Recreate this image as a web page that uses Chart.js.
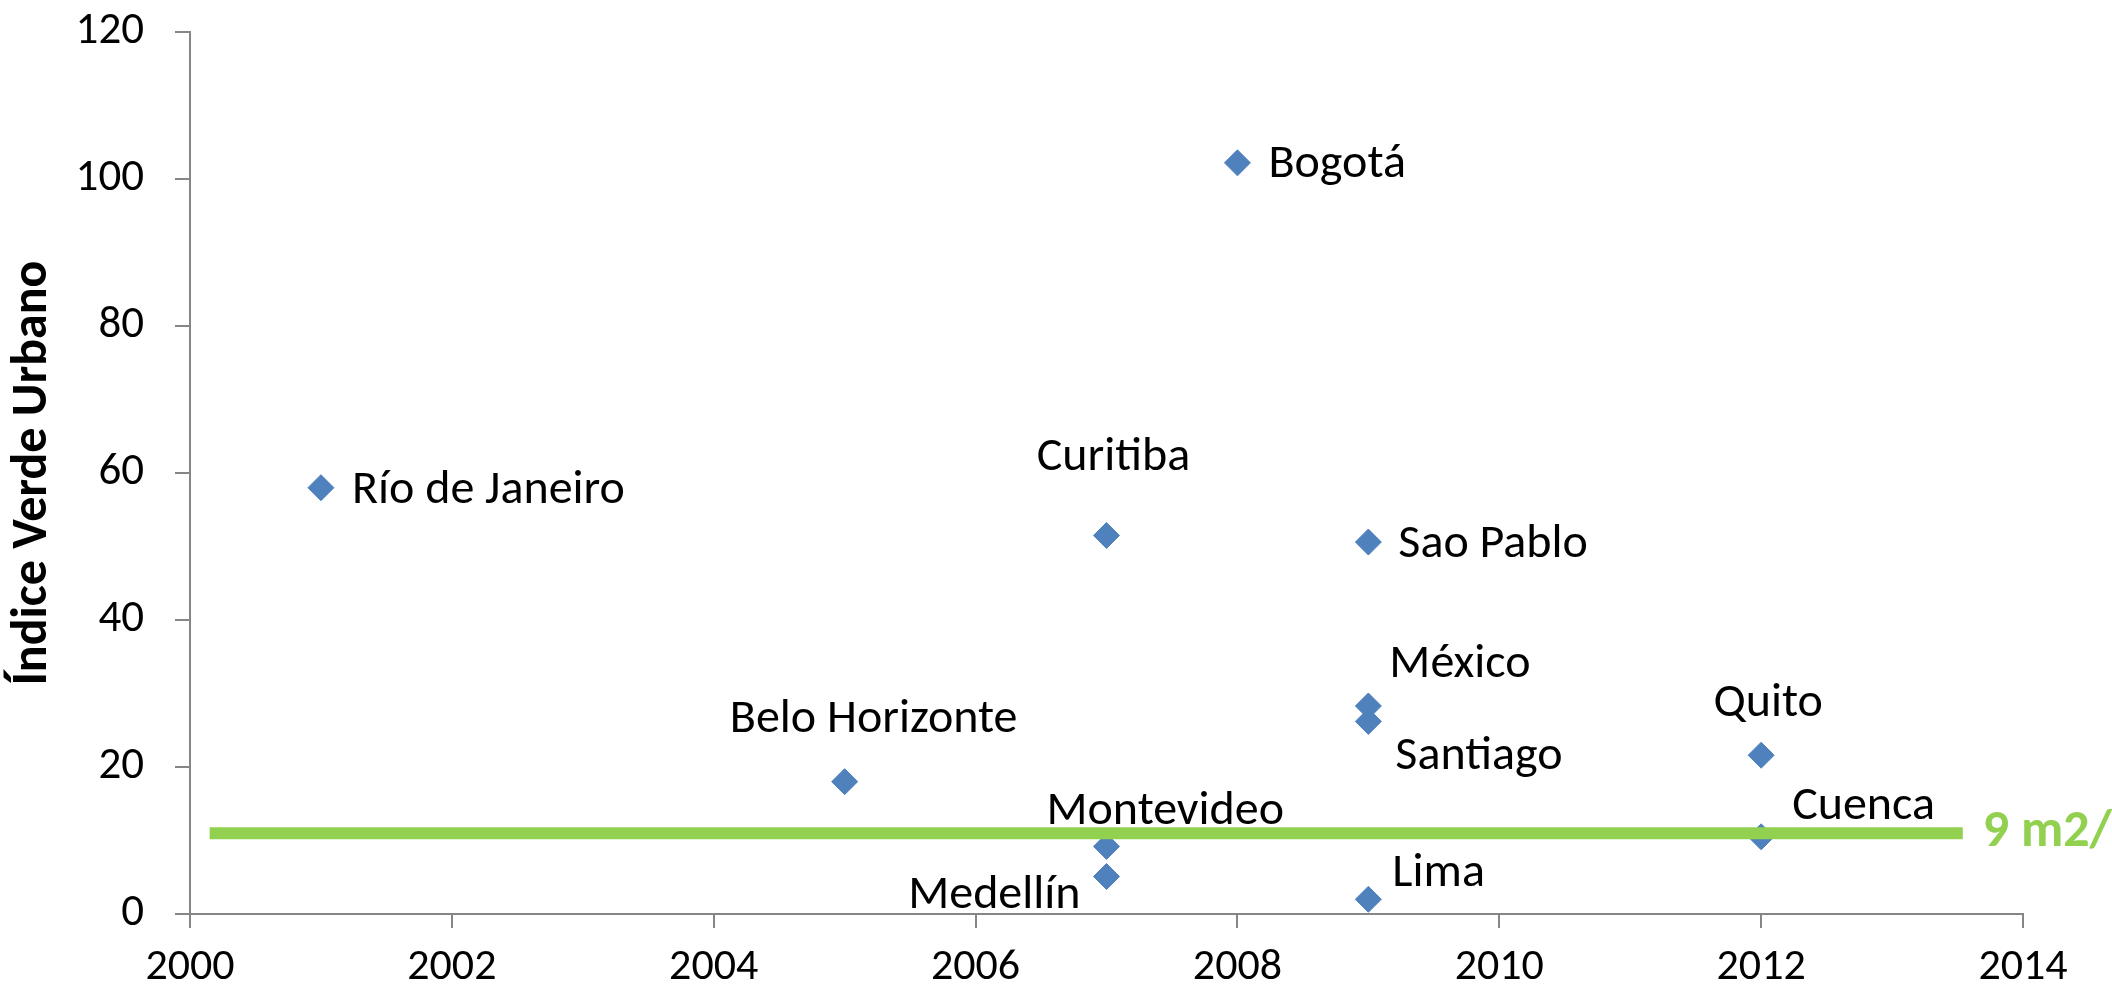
<!DOCTYPE html>
<html>
<head>
<meta charset="utf-8">
<script src="https://cdn.jsdelivr.net/npm/chart.js@4/dist/chart.umd.min.js"></script>
<style>
html, body { margin: 0; padding: 0; background: #fff; }
#wrap { width: 2112px; height: 986px; position: relative; }
</style>
</head>
<body>
<div id="wrap"><canvas id="chart"></canvas></div>
<script>
// data
const cities = ['Río de Janeiro', 'Belo Horizonte', 'Curitiba', 'Montevideo', 'Medellín', 'Bogotá',
    'Sao Pablo', 'México', 'Santiago', 'Lima', 'Quito', 'Cuenca'];
const years = [2001, 2005, 2007, 2007, 2007, 2008, 2009, 2009, 2009, 2009, 2012, 2012];
const greenIndex = [58, 18, 51.5, 9.2, 5.1, 102.2, 50.6, 28.3, 26.2, 2, 21.6, 10.5];
const refLineX = [2000.15, 2013.54];
const refLineY = [11, 11];
const refLineLabel = '9 m2/hab';
const yTitle = 'Índice Verde Urbano';

const FONT = 'Carlito, Lato, sans-serif';
const BLUE = '#4F81BD';
const GREEN = '#92D050';
const AXIS = '#868686';

// where each city name sits relative to its marker: [align, dx, dy]
const labelPlace = {
    'Río de Janeiro': ['left', 31, 3],
    'Belo Horizonte': ['center', 29, -62],
    'Curitiba': ['center', 7, -77],
    'Montevideo': ['left', -60, -34],
    'Medellín': ['right', -26, 19],
    'Bogotá': ['left', 31, 2],
    'Sao Pablo': ['left', 30, 3],
    'México': ['left', 21, -41],
    'Santiago': ['left', 27, 36],
    'Lima': ['left', 24, -25],
    'Quito': ['center', 7, -51],
    'Cuenca': ['left', 31, -30]
};

const cityPoints = years.map((y, i) => ({ x: y, y: greenIndex[i] }));
const refPoints = refLineX.map((x, i) => ({ x: x, y: refLineY[i] }));

const labelPlugin = {
    id: 'cityLabels',
    afterDatasetsDraw(chart) {
        const ctx = chart.ctx;
        ctx.save();
        ctx.font = '48px ' + FONT;
        ctx.fillStyle = '#000';
        ctx.textBaseline = 'middle';
        const meta = chart.getDatasetMeta(1);
        meta.data.forEach((pt, i) => {
            const p = labelPlace[cities[i]];
            ctx.textAlign = p[0];
            ctx.fillText(cities[i], pt.x + p[1], pt.y + p[2]);
        });

        const line = chart.getDatasetMeta(0).data;
        const last = line[line.length - 1];
        ctx.font = 'bold 52px ' + FONT;
        ctx.fillStyle = GREEN;
        ctx.textAlign = 'left';
        ctx.fillText(refLineLabel, last.x + 20, last.y);
        ctx.restore();
    }
};

new Chart(document.getElementById('chart'), {
    type: 'scatter',
    data: {
        datasets: [{
            label: refLineLabel,
            data: refPoints,
            showLine: true,
            borderColor: GREEN,
            borderWidth: 12,
            borderCapStyle: 'butt',
            pointRadius: 0,
            order: 0
        }, {
            label: 'Índice Verde Urbano',
            data: cityPoints,
            pointStyle: 'rectRot',
            pointRadius: 13,
            pointBackgroundColor: BLUE,
            pointBorderColor: BLUE,
            pointBorderWidth: 1,
            order: 1
        }]
    },
    options: {
        responsive: true,
        maintainAspectRatio: false,
        animation: false,
        layout: { padding: { top: 32, right: 89, left: 0, bottom: 0 } },
        plugins: {
            legend: { display: false },
            tooltip: { enabled: false }
        },
        scales: {
            x: {
                type: 'linear',
                min: 2000,
                max: 2014,
                afterFit: scale => { scale.height = 72; },
                ticks: {
                    stepSize: 2,
                    padding: 14,
                    color: '#000',
                    font: { family: FONT, size: 44 },
                    callback: v => String(v)
                },
                grid: { drawOnChartArea: false, tickLength: 14, color: AXIS, lineWidth: 2 },
                border: { color: AXIS, width: 2 }
            },
            y: {
                min: 0,
                max: 120,
                afterFit: scale => {
                    scale.width = 190;
                    // label padding would otherwise push the plot top down
                    scale.paddingTop = 0;
                    scale.paddingBottom = 0;
                },
                ticks: {
                    stepSize: 20,
                    padding: 31,
                    color: '#000',
                    font: { family: FONT, size: 45 }
                },
                grid: { drawOnChartArea: false, tickLength: 15, color: AXIS, lineWidth: 2 },
                border: { color: AXIS, width: 2 },
                title: {
                    display: true,
                    text: yTitle,
                    color: '#000',
                    font: { family: FONT, size: 50, weight: 'bold' },
                    padding: { top: 3, bottom: 0 }
                }
            }
        }
    },
    plugins: [labelPlugin]
});
</script>
</body>
</html>
